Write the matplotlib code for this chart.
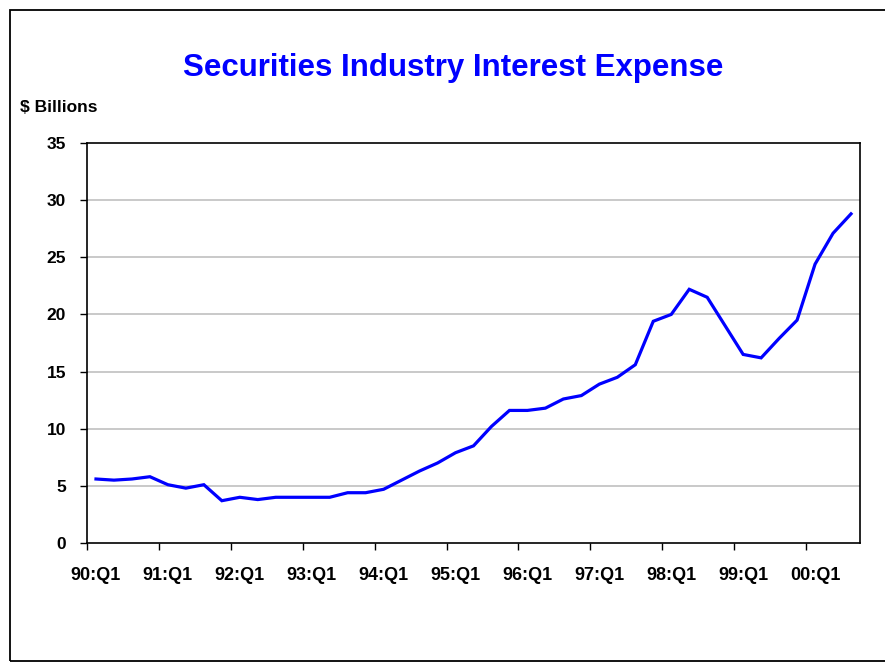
import matplotlib
matplotlib.use('Agg')
import matplotlib.pyplot as plt
from matplotlib.patches import Rectangle

# quarterly interest expense, 90:Q1 .. 00:Q3 ($ billions)
quarters = [f'{y % 100:02d}:Q{q}' for y in range(1990, 2001) for q in range(1, 5)][:43]
expense = [5.6, 5.5, 5.6, 5.8, 5.1, 4.8, 5.1, 3.7,
           4.0, 3.8, 4.0, 4.0, 4.0, 4.0, 4.4, 4.4,
           4.7, 5.5, 6.3, 7.0, 7.9, 8.5, 10.2, 11.6,
           11.6, 11.8, 12.6, 12.9, 13.9, 14.5, 15.6, 19.4,
           20.0, 22.2, 21.5, 19.0, 16.5, 16.2, 17.9, 19.5,
           24.4, 27.1, 28.8]
y_ticks = [0, 5, 10, 15, 20, 25, 30, 35]

plt.rcParams['font.family'] = ['Liberation Sans', 'DejaVu Sans']

fig = plt.figure(figsize=(8.85, 6.63), dpi=100)
ax = fig.add_axes([87 / 885, 1 - 543 / 663, 773 / 885, 400 / 663])

x = list(range(len(expense)))
ax.plot(x, expense, color='#0000ff', lw=2.3, solid_joinstyle='miter')

ax.set_xlim(-0.5, len(expense) - 0.5)
ax.set_ylim(0, 35)
ax.set_yticks(y_ticks)
ax.set_yticklabels([str(v) for v in y_ticks], fontsize=12.5, fontweight='bold')
for v in y_ticks[1:-1]:
    ax.axhline(v, color='#c0c0c0', lw=1.2, zorder=0)

# ticks sit between categories, labels on each Q1
ax.set_xticks([i - 0.5 for i in range(0, len(expense), 4)])
ax.set_xticklabels([])
ax.set_xticks(list(range(0, len(expense), 4)), minor=True)
ax.set_xticklabels([quarters[i] for i in range(0, len(expense), 4)], minor=True,
                   fontsize=13, fontweight='bold')
ax.tick_params(axis='x', which='minor', length=0, pad=17)
ax.tick_params(axis='both', which='major', length=5, width=1, direction='out')
ax.tick_params(axis='y', pad=10)
for s in ax.spines.values():
    s.set_linewidth(1.2)

fig.text(453 / 885, 1 - 76 / 663, 'Securities Industry Interest Expense',
         ha='center', va='baseline', color='#0000ff', fontsize=22.5, fontweight='bold')
fig.text(20 / 885, 1 - 108 / 663, '$ Billions', ha='left', va='center',
         fontsize=12.5, fontweight='bold')

fig.patches.append(Rectangle((10 / 885, 1 - 661 / 663), 1.0, 651 / 663, fill=False,
                             lw=1.3, edgecolor='black', transform=fig.transFigure))

fig.savefig('out.png', dpi=100)
